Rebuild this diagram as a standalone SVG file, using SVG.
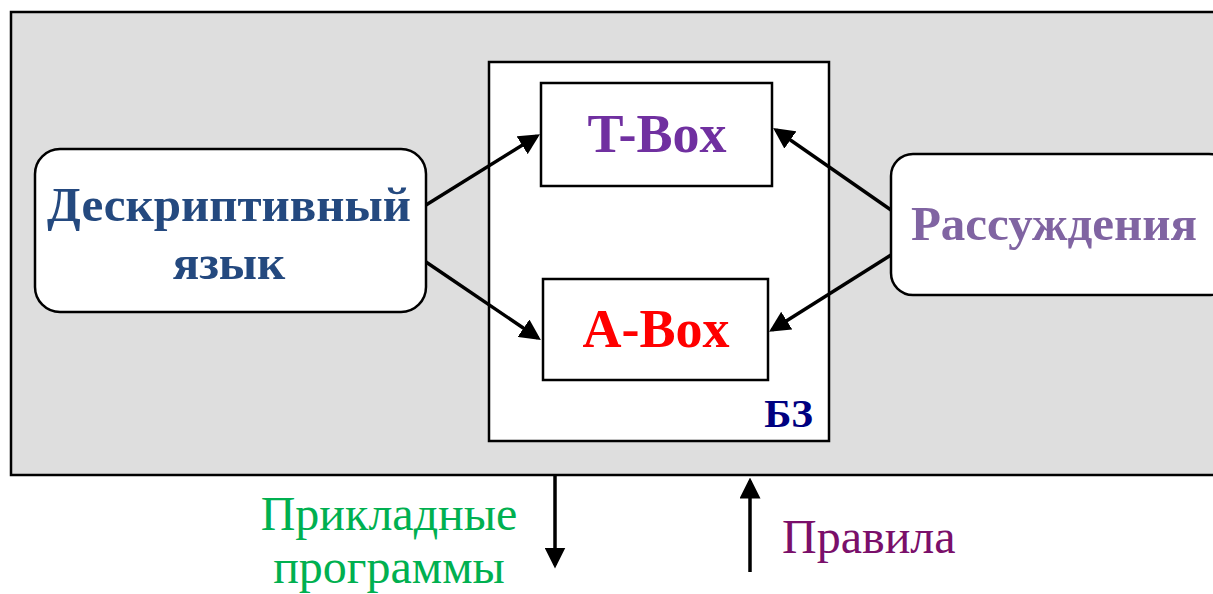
<svg xmlns="http://www.w3.org/2000/svg" width="1213" height="594" viewBox="0 0 1213 594">
<defs>
<style>
.b{fill:#fff;stroke:#000;stroke-width:2.5}
.t{font-family:"Liberation Serif",serif;text-anchor:middle}
.bold{font-weight:bold}
.c{stroke:#000;stroke-width:3.5;fill:none}
</style>
<marker id="ah" markerWidth="6" markerHeight="6" refX="5" refY="3" orient="auto" markerUnits="strokeWidth">
<path d="M0,0 L6,3 L0,6 Z" fill="#000"/>
</marker>
</defs>
<rect width="1213" height="594" fill="#fff"/>
<g id="outer"><rect x="11" y="12" width="1210" height="463" fill="#dedede" stroke="#000" stroke-width="2.5"/></g>
<g id="kb"><rect class="b" x="489" y="62" width="340" height="379"/>
<text class="t bold" x="813" y="427" font-size="41" fill="#000080" style="text-anchor:end">БЗ</text></g>
<g id="tbox"><rect class="b" x="541" y="83" width="231" height="103"/>
<text class="t bold" x="657" y="152" font-size="54" fill="#7030a0">T-Box</text></g>
<g id="abox"><rect class="b" x="543" y="279" width="225" height="101"/>
<text class="t bold" x="656" y="347" font-size="54" fill="#ff0000">A-Box</text></g>
<g id="lang"><rect class="b" x="35" y="149" width="391" height="163" rx="25"/>
<text class="t bold" x="229" y="221" font-size="49" fill="#24497f">Дескриптивный</text>
<text class="t bold" x="229" y="279" font-size="49" fill="#24497f">язык</text></g>
<g id="reason"><rect class="b" x="891" y="154" width="340" height="141" rx="22"/>
<text class="t bold" x="1054" y="240" font-size="49" fill="#8064a2">Рассуждения</text></g>
<g id="apps"><text class="t" x="389" y="530" font-size="48" fill="#00b050">Прикладные</text>
<text class="t" x="389" y="583" font-size="48" fill="#00b050">программы</text></g>
<g id="rules"><text class="t" x="782" y="553" font-size="48" fill="#7a0f6a" style="text-anchor:start">Правила</text></g>
<g id="connectors">
<line class="c" x1="426" y1="205" x2="537" y2="136" marker-end="url(#ah)"/>
<line class="c" x1="426" y1="262" x2="538" y2="338" marker-end="url(#ah)"/>
<line class="c" x1="891" y1="210" x2="776" y2="130" marker-end="url(#ah)"/>
<line class="c" x1="891" y1="255" x2="772" y2="330" marker-end="url(#ah)"/>
<line class="c" x1="555" y1="475" x2="555" y2="565" stroke-width="3" marker-end="url(#ah)"/>
<line class="c" x1="750" y1="572" x2="750" y2="481" stroke-width="3" marker-end="url(#ah)"/>
</g>
</svg>
